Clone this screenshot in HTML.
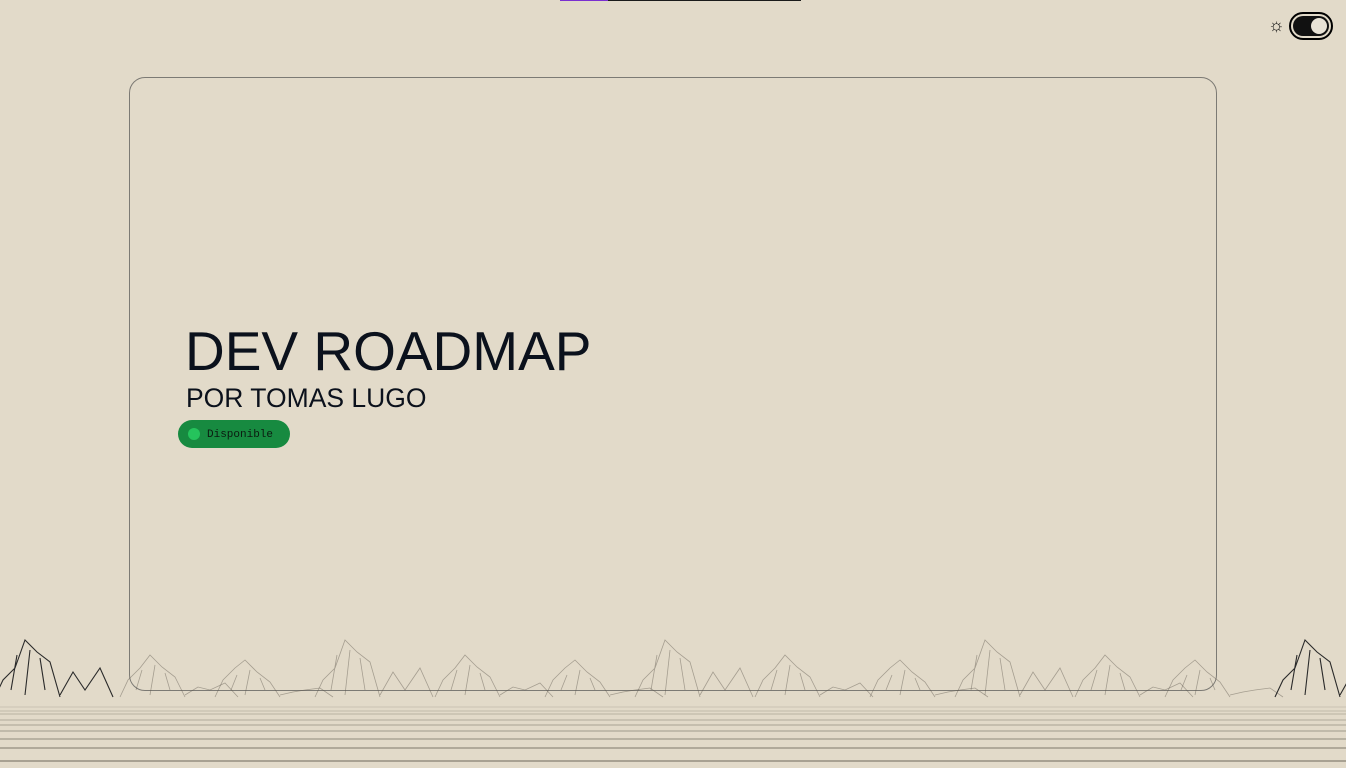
<!DOCTYPE html>
<html><head><meta charset="utf-8"><style>
html,body{margin:0;padding:0;width:1346px;height:768px;overflow:hidden;background:#e2dac9;font-family:"Liberation Sans",sans-serif;position:relative}
.bar{position:absolute;left:560px;top:0;width:241px;height:1px;background:#1a1a1a}
.bar i{position:absolute;left:0;top:0;width:48px;height:1px;background:#7a2fd0}
.card{position:absolute;left:129px;top:77px;width:1086px;height:612px;border:1px solid #7c7a74;border-radius:16px}
h1{position:absolute;left:185px;top:318px;margin:0;font-size:55px;font-weight:400;color:#0b111c;line-height:66px}
h2{position:absolute;left:186px;top:381px;margin:0;font-size:26.5px;font-weight:400;color:#0b111c;line-height:34px}
.pill{position:absolute;left:178px;top:420px;width:112px;height:28px;border-radius:14px;background:#178a40}
.pill b{position:absolute;left:10px;top:8px;width:12px;height:12px;border-radius:50%;background:#25c35c}
.pill span{position:absolute;left:29px;top:9px;font:11px "Liberation Mono",monospace;color:#0b1a10}
.tog{position:absolute;left:1289px;top:12px;width:40px;height:24px;border:2px solid #000;border-radius:14px;background:#e2dac9}
.tog i{position:absolute;left:2px;top:2px;width:36px;height:20px;border-radius:10px;background:#111}
.tog i b{position:absolute;right:2px;top:2px;width:16px;height:16px;border-radius:50%;background:#e8e2d5}
.sun{position:absolute;left:1268px;top:15px;font-size:18px;color:#111}
svg{position:absolute;left:0;top:0}
</style></head><body>
<div class="bar"><i></i></div>
<span class="sun">☼</span>
<div class="tog"><i><b></b></i></div>
<div class="card"></div>
<h1>DEV ROADMAP</h1>
<h2>POR TOMAS LUGO</h2>
<div class="pill"><b></b><span>Disponible</span></div>
<svg id="m" width="1346" height="768"></svg>
<script>
const peaksX=[25,150,245,345,465,575,665,785,900,985,1105,1195,1305];
const peaksY=[640,655,660,640,655,660,640,655,660,640,655,660,640];
const dark=[1,0,0,0,0,0,0,0,0,0,0,0,1];
const lineYs=[707,711,714,720,725,731,739,748,761];
const lineOp=[0.15,0.2,0.25,0.3,0.35,0.4,0.5,0.6,0.7];
const svg=document.getElementById('m');const NS='http://www.w3.org/2000/svg';
lineYs.forEach((y,i)=>{const l=document.createElementNS(NS,'line');


l.setAttribute('x1',0);l.setAttribute('x2',1346);l.setAttribute('y1',y);l.setAttribute('y2',y);
l.setAttribute('stroke','rgba(60,55,45,'+lineOp[i]+')');l.setAttribute('stroke-width',1);svg.appendChild(l);});
peaksX.forEach((x,i)=>{const y=peaksY[i];const p=document.createElementNS(NS,'path');


const d=`M${x-30} 697 L${x-22} 680 L${x-10} 668 L${x} ${y} L${x+12} ${y+12} L${x+25} ${y+22} L${x+35} 697 M${x+35} 695 L${x+48} ${y+32} L${x+60} 690 L${x+75} ${y+28} L${x+88} 697 M${x-8} ${y+15} L${x-14} 690 M${x+5} ${y+10} L${x} 695 M${x+15} ${y+18} L${x+20} 690`;
p.setAttribute('d',d);p.setAttribute('fill','none');
p.setAttribute('stroke',dark[i]?'#2a2a2a':'rgba(90,85,75,0.45)');p.setAttribute('stroke-width',dark[i]?1.1:0.8);svg.appendChild(p);});
</script>
</body></html>
